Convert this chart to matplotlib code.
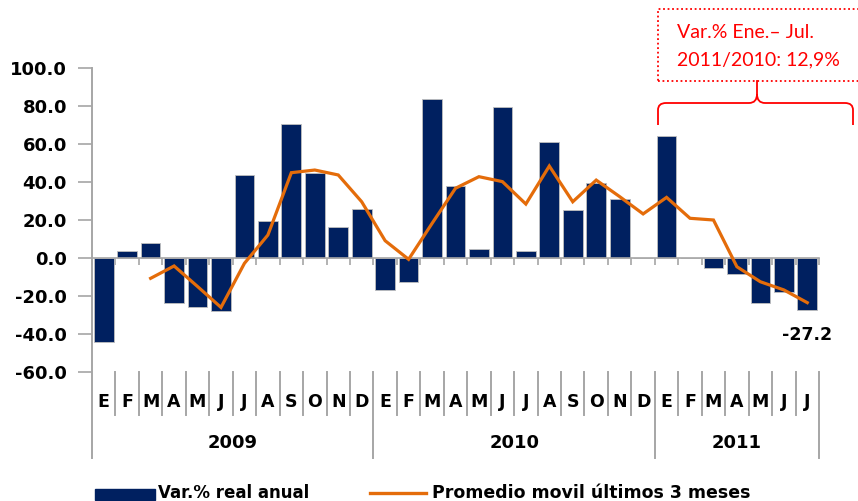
import numpy as np
import matplotlib
matplotlib.use("Agg")
import matplotlib.pyplot as plt
from matplotlib.path import Path
from matplotlib.patches import PathPatch, Rectangle
from matplotlib.lines import Line2D

W, H = 858, 501
NAVY = "#002060"
ORANGE = "#E46C0A"
GRAY = "#A6A6A6"
RED = "#FF0000"

months = ["E", "F", "M", "A", "M", "J", "J", "A", "S", "O", "N", "D",
          "E", "F", "M", "A", "M", "J", "J", "A", "S", "O", "N", "D",
          "E", "F", "M", "A", "M", "J", "J"]
years = ["2009", "2010", "2011"]
year_len = [12, 12, 7]

# Var.% real anual
var_anual = [-44.0, 3.5, 8.0, -23.5, -25.6, -27.7, 43.5, 19.6, 70.5, 45.0, 16.5, 26.0,
             -17.0, -12.5, 83.7, 38.0, 4.6, 79.3, 3.5, 60.9, 25.3, 39.6, 30.9, 0.0,
             64.2, 0.0, -5.0, -8.4, -23.5, -18.0, -27.2]
# Promedio movil ultimos 3 meses (starts in March 2009)
prom_movil = [None, None, -10.7, -4.2, -15.0, -26.0, -2.8, 12.1, 44.9, 46.3, 43.7, 29.6,
              9.1, -0.7, 18.2, 36.7, 42.8, 40.2, 28.4, 48.4, 29.6, 41.0, 32.3, 23.2,
              31.9, 20.9, 20.0, -4.6, -12.5, -16.8, -23.5]
yticks = [-60, -40, -20, 0, 20, 40, 60, 80, 100]


def px(x, y):
    """pixel coords of the reference -> figure fraction"""
    return x / W, 1 - y / H


fig = plt.figure(figsize=(W / 100, H / 100), dpi=100)
ax = fig.add_axes([92 / W, 1 - 372 / H, (819 - 92) / W, (372 - 68) / H])

x = np.arange(len(months))
bars = ax.bar(x, var_anual, width=0.84, color=NAVY, edgecolor="#BFBFBF",
              linewidth=0.6, zorder=2)
ma = np.array([np.nan if v is None else v for v in prom_movil], dtype=float)
line, = ax.plot(x, ma, color=ORANGE, lw=2.3, zorder=3, solid_joinstyle="miter")

ax.set_xlim(-0.5, len(months) - 0.5)
ax.set_ylim(-60, 100)
ax.set_yticks(yticks)
ax.set_yticklabels([f"{v:.1f}" for v in yticks], fontsize=13, fontweight="heavy")
ax.tick_params(axis="y", direction="out", length=10, color=GRAY, width=1.2, pad=8)

# category axis crosses at zero, ticks between months
ax.spines["bottom"].set_position(("data", 0))
ax.spines["bottom"].set_color(GRAY)
ax.spines["bottom"].set_linewidth(1.2)
ax.set_xticks(np.arange(len(months) + 1) - 0.5)
ax.set_xticklabels([])
ax.tick_params(axis="x", direction="out", length=5, color=GRAY, width=1.2)
for s in ("top", "right"):
    ax.spines[s].set_visible(False)
ax.spines["left"].set_visible(False)

tr = ax.get_xaxis_transform()
y_month_sep = (372 - 415) / 304
y_year_sep = (372 - 458) / 304
# left axis line from top down to the year separators
ax.plot([-0.5, -0.5], [1, y_year_sep], transform=tr, color=GRAY, lw=1.4,
        clip_on=False, zorder=1)
starts = np.cumsum([0] + year_len)
for b in range(1, len(months) + 1):
    y_end = y_year_sep if b in starts else y_month_sep
    ax.plot([b - 0.5, b - 0.5], [0, y_end], transform=tr, color=GRAY, lw=1.4,
            clip_on=False)
for i, m in enumerate(months):
    ax.text(i, (372 - 402) / 304, m, transform=tr, ha="center", va="center",
            fontsize=12.5, fontweight="heavy")
for yr, s, n in zip(years, starts[:-1], year_len):
    ax.text(s + n / 2 - 0.5, (372 - 443) / 304, yr, transform=tr, ha="center",
            va="center", fontsize=13, fontweight="heavy")

# last value label
ax.annotate(f"{var_anual[-1]:.1f}", (x[-1], var_anual[-1]), xytext=(0, -12),
            textcoords="offset points", ha="center", va="top",
            fontsize=12.5, fontweight="heavy")

# legend
fig.patches.append(Rectangle(px(95, 500), 60 / W, 11 / H, transform=fig.transFigure,
                             color=NAVY, clip_on=False))
fig.text(*px(158, 493), "Var.% real anual", ha="left", va="center",
         fontsize=12, fontweight="heavy")
fig.lines.append(Line2D([370 / W, 426 / W], [1 - 493 / H] * 2, transform=fig.transFigure,
                        color=ORANGE, lw=2.4))
fig.text(*px(432, 493), "Promedio movil últimos 3 meses", ha="left", va="center",
         fontsize=12.5, fontweight="heavy")

# annotation box + brace
fig.patches.append(Rectangle(px(658, 81), 260 / W, 72 / H, transform=fig.transFigure,
                             fill=False, edgecolor=RED, lw=1.3, ls=(0, (1, 1.5)),
                             clip_on=False))
fig.text(*px(677, 33), "Var.% Ene.– Jul.", color=RED, fontsize=14, family="Lato",
         ha="left", va="center")
fig.text(*px(677, 60), "2011/2010: 12,9%", color=RED, fontsize=14, family="Lato",
         ha="left", va="center")
brace = [(658, 125), (658, 110), (658, 103), (666, 103), (749, 103), (757, 103),
         (757, 94), (757, 103), (765, 103), (845, 103), (853, 103), (853, 110),
         (853, 125)]
codes = [Path.MOVETO, Path.LINETO, Path.CURVE3, Path.CURVE3, Path.LINETO,
         Path.CURVE3, Path.CURVE3, Path.CURVE3, Path.CURVE3, Path.LINETO,
         Path.CURVE3, Path.CURVE3, Path.LINETO]
verts = [px(a, b) for a, b in brace]
fig.patches.append(PathPatch(Path(verts, codes), transform=fig.transFigure,
                             fill=False, edgecolor=RED, lw=1.3))
fig.lines.append(Line2D([757 / W] * 2, [1 - 94 / H, 1 - 81 / H], transform=fig.transFigure,
                        color=RED, lw=1.3))

fig.savefig("out.png", dpi=100)
